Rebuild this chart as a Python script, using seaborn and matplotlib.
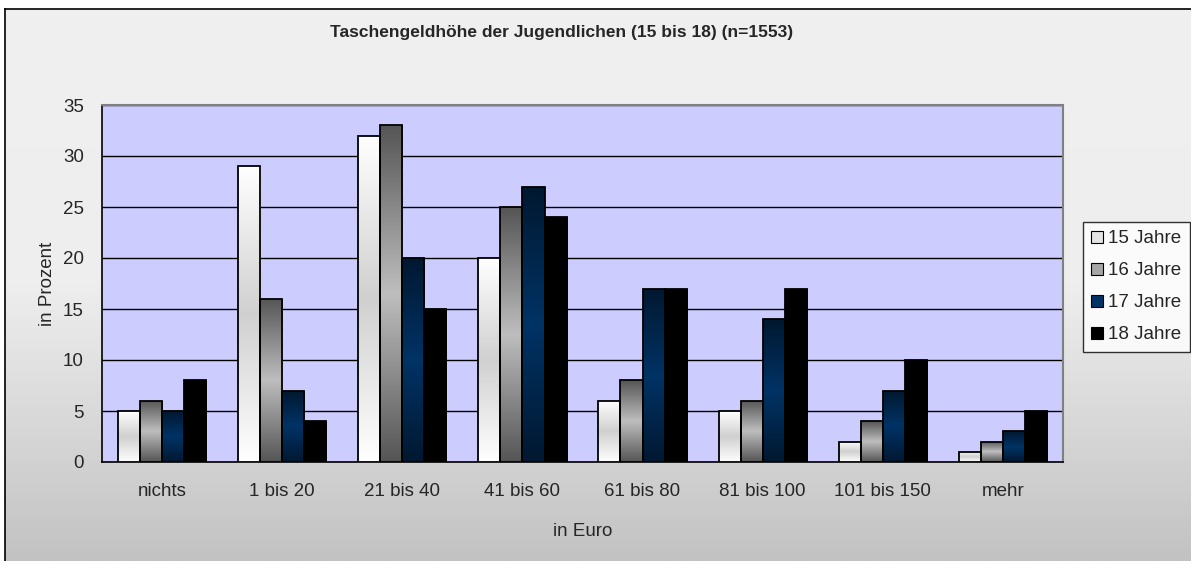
import numpy as np
import pandas as pd
import seaborn as sns
import matplotlib.pyplot as plt
from matplotlib.colors import LinearSegmentedColormap
from matplotlib.patches import Patch

categories = ["nichts", "1 bis 20", "21 bis 40", "41 bis 60", "61 bis 80",
              "81 bis 100", "101 bis 150", "mehr"]
ages = ["15 Jahre", "16 Jahre", "17 Jahre", "18 Jahre"]
v15 = [5, 29, 32, 20, 6, 5, 2, 1]
v16 = [6, 16, 33, 25, 8, 6, 4, 2]
v17 = [5, 7, 20, 27, 17, 14, 7, 3]
v18 = [8, 4, 15, 24, 17, 17, 10, 5]

rows = []
for age, vals in zip(ages, [v15, v16, v17, v18]):
    for c, v in zip(categories, vals):
        rows.append({"Kategorie": c, "Prozent": v, "Alter": age})
df = pd.DataFrame(rows)

sns.set_style("white")
plt.rcParams["font.family"] = ["Liberation Sans", "DejaVu Sans"]
FS = 13.5

W, H = 1191, 561
fig = plt.figure(figsize=(W / 100, H / 100), dpi=100, facecolor="white")

# chart area background (gray gradient, border only left/top visible)
bg = fig.add_axes([5 / W, 0, 1 - 5 / W, 1 - 9 / H], zorder=-10)
grad = np.linspace(0, 1, 256).reshape(-1, 1)
bg_cmap = LinearSegmentedColormap.from_list("bg", ["#f0f0f0", "#eeeeee", "#c2c2c2"])
bg.imshow(grad, aspect="auto", cmap=bg_cmap, extent=[0, 1, 0, 1])
bg.set_xticks([])
bg.set_yticks([])
for s in ["right", "bottom"]:
    bg.spines[s].set_visible(False)
for s in ["left", "top"]:
    bg.spines[s].set_color("black")
    bg.spines[s].set_linewidth(1.2)

ax = fig.add_axes([102 / W, 1 - 462 / H, (1063 - 102) / W, (462 - 105) / H])
ax.set_facecolor("#ccccff")

legend_colors = ["#e4e4e4", "#a6a6a6", "#003366", "#000000"]
sns.barplot(data=df, x="Kategorie", y="Prozent", hue="Alter", order=categories,
            hue_order=ages, palette=legend_colors, width=0.735, edgecolor="black",
            linewidth=1.3, ax=ax, legend=False, zorder=3)

gradients = [
    ["#ffffff", "#d0d0d0", "#ffffff"],
    ["#555555", "#bebebe", "#555555"],
    ["#001830", "#003366", "#001830"],
    ["#000000", "#000000", "#000000"],
]
for cont, cols in zip(ax.containers, gradients):
    cm = LinearSegmentedColormap.from_list("g", cols)
    for bar in cont:
        x0, y0 = bar.get_x(), bar.get_y()
        w, h = bar.get_width(), bar.get_height()
        im = ax.imshow(grad, aspect="auto", cmap=cm,
                       extent=[x0, x0 + w, y0, y0 + h], zorder=3.5)
        im.set_clip_path(bar)
        bar.set_facecolor("none")
        bar.set_zorder(4)

ax.set_xlim(-0.5, len(categories) - 0.5)
ax.set_ylim(0, 35)
ax.set_yticks(range(0, 36, 5))
ax.yaxis.grid(True, color="black", linewidth=1.0, zorder=0)
ax.set_axisbelow(True)

ax.set_xticks(range(len(categories)))
ax.set_xticklabels(categories, fontsize=FS)
ax.set_xticks(np.arange(-0.5, len(categories), 1), minor=True)
ax.tick_params(axis="x", which="major", length=0, pad=15)
ax.tick_params(axis="x", which="minor", length=5, width=1, color="black", direction="out")
ax.tick_params(axis="y", length=6, width=1, color="black", direction="out", labelsize=FS, pad=7)

ax.spines["left"].set_color("black")
ax.spines["bottom"].set_color("black")
ax.spines["left"].set_linewidth(1.2)
ax.spines["bottom"].set_linewidth(1.2)
ax.spines["top"].set_color("#808080")
ax.spines["right"].set_color("#808080")
ax.spines["top"].set_linewidth(1.5)
ax.spines["right"].set_linewidth(1.5)

ax.set_xlabel("in Euro", fontsize=FS, labelpad=17)
ax.set_ylabel("in Prozent", fontsize=FS, labelpad=5)

fig.text(562 / W, 1 - 32 / H, "Taschengeldhöhe der Jugendlichen (15 bis 18) (n=1553)",
         ha="center", va="center", fontsize=12.5, fontweight="bold")

handles = [Patch(facecolor=c, edgecolor="black", linewidth=0.8) for c in legend_colors]
leg = fig.legend(handles, ages, loc="upper left", bbox_to_anchor=(1083 / W, 1 - 222 / H),
                 frameon=True, fancybox=False, fontsize=FS, handlelength=0.6,
                 handleheight=0.6, handletextpad=0.3, labelspacing=0.8,
                 borderpad=0.45, borderaxespad=0)
leg.get_frame().set_edgecolor("black")
leg.get_frame().set_facecolor("white")
leg.get_frame().set_linewidth(1.0)

fig.savefig("out.png", dpi=100, facecolor=fig.get_facecolor())
